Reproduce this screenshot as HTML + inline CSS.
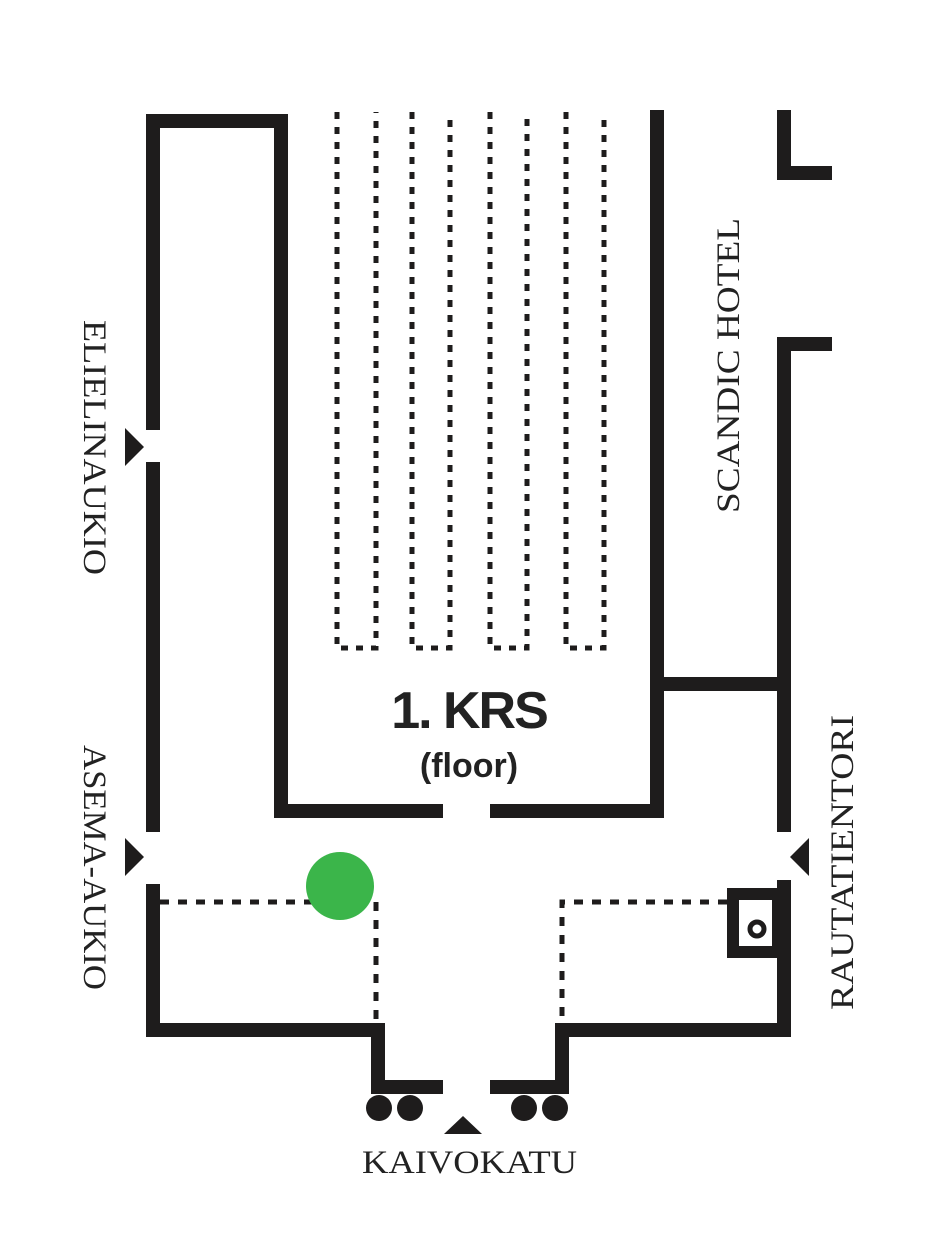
<!DOCTYPE html>
<html><head><meta charset="utf-8"><style>
html,body{margin:0;padding:0;background:#fff;}
svg{display:block}
</style></head><body>
<svg width="933" height="1250" viewBox="0 0 933 1250" xmlns="http://www.w3.org/2000/svg">
<g stroke="#1e1c1c" stroke-width="14" fill="none" stroke-linecap="butt">
  <polyline points="153,430 153,121 281,121 281,811 443,811"/>
  <line x1="153" y1="462" x2="153" y2="832"/>
  <polyline points="153,884 153,1030 378,1030 378,1087 443,1087"/>
  <polyline points="490,811 657,811 657,110"/>
  <line x1="657" y1="684" x2="784" y2="684"/>
  <polyline points="832,344 784,344 784,832"/>
  <polyline points="784,110 784,173 832,173"/>
  <polyline points="784,880 784,1030 562,1030 562,1087 490,1087"/>
  <rect x="733" y="894" width="45" height="58" stroke-width="12"/>
</g>
<circle cx="757" cy="929" r="7" fill="none" stroke="#1e1c1c" stroke-width="5"/>
<g stroke="#1e1c1c" stroke-width="5" fill="none" stroke-dasharray="7,8">
  <polyline points="337,112 337,648 376,648 376,112"/>
  <polyline points="412,112 412,648 450,648 450,112"/>
  <polyline points="490,112 490,648 527,648 527,112"/>
  <polyline points="566,112 566,648 604,648 604,112"/>
</g>
<g stroke="#1e1c1c" stroke-width="5" fill="none" stroke-dasharray="9,9">
  <polyline points="160,902 376,902 376,1022"/>
  <polyline points="727,902 562,902 562,1022"/>
</g>
<circle cx="340" cy="886" r="34" fill="#3bb54a"/>
<g fill="#1e1c1c">
  <circle cx="379" cy="1108" r="13"/><circle cx="410" cy="1108" r="13"/>
  <circle cx="524" cy="1108" r="13"/><circle cx="555" cy="1108" r="13"/>
  <polygon points="125,428 125,466 144,447"/>
  <polygon points="125,838 125,876 144,857"/>
  <polygon points="809,838 809,876 790,857"/>
  <polygon points="444,1134 482,1134 463,1116"/>
</g>
<g font-family="'Liberation Serif',serif" font-size="33" fill="#222" lengthAdjust="spacingAndGlyphs">
  <text x="362" y="1173" textLength="215" lengthAdjust="spacingAndGlyphs">KAIVOKATU</text>
  <text transform="translate(84,320) rotate(90)" textLength="255" lengthAdjust="spacingAndGlyphs">ELIELINAUKIO</text>
  <text transform="translate(84,745) rotate(90)" textLength="245" lengthAdjust="spacingAndGlyphs">ASEMA-AUKIO</text>
  <text transform="translate(739,513) rotate(-90)" textLength="295" lengthAdjust="spacingAndGlyphs">SCANDIC HOTEL</text>
  <text transform="translate(853,1010) rotate(-90)" textLength="295" lengthAdjust="spacingAndGlyphs">RAUTATIENTORI</text>
</g>
<g font-family="'Liberation Sans',sans-serif" font-weight="bold" fill="#222" text-anchor="middle">
  <text x="469" y="728" font-size="52" letter-spacing="-2">1. KRS</text>
  <text x="469" y="777" font-size="34">(floor)</text>
</g>
</svg>
</body></html>
